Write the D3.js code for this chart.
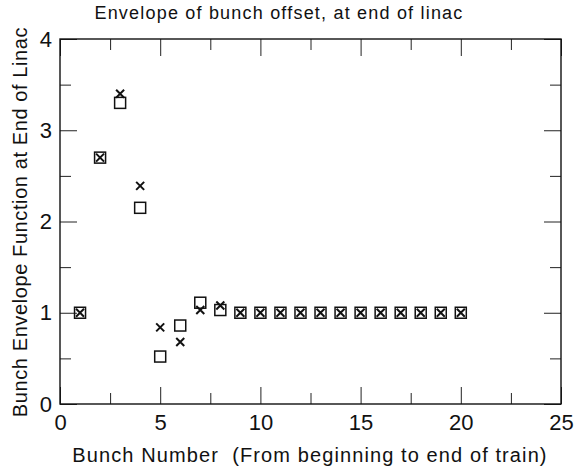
<!DOCTYPE html>
<html>
<head>
<meta charset="utf-8">
<script src="https://cdn.jsdelivr.net/npm/d3@7"></script>
<style>
  body { margin: 0; background: #fff; }
  text { font-family: "Liberation Sans", Arial, sans-serif; fill: #111; }
</style>
</head>
<body>
<div id="vis"></div>
<script>
// data
const bunches = d3.range(1, 21);
const envCross = [1.0, 2.7, 3.4, 2.39, 0.84, 0.68, 1.03, 1.08, 1.0, 1.0,
                  1.0, 1.0, 1.0, 1.0, 1.0, 1.0, 1.0, 1.0, 1.0, 1.0];
const envSquare = [1.0, 2.7, 3.3, 2.15, 0.52, 0.86, 1.11, 1.03, 1.0, 1.0,
                   1.0, 1.0, 1.0, 1.0, 1.0, 1.0, 1.0, 1.0, 1.0, 1.0];
const xTicks = [0, 5, 10, 15, 20, 25];
const xMinor = [2.5, 7.5, 12.5, 17.5, 22.5];
const yTicks = [0, 1, 2, 3, 4];
const yMinor = [0.5, 1.5, 2.5, 3.5];

const FRAME_WIDTH = 576;
const FRAME_HEIGHT = 468;
const MARGINS = {left: 60, right: 15, top: 39, bottom: 64};
const VIS_WIDTH = FRAME_WIDTH - MARGINS.left - MARGINS.right;
const VIS_HEIGHT = FRAME_HEIGHT - MARGINS.top - MARGINS.bottom;

const FRAME = d3.select("#vis")
        .append("svg")
          .attr("width", FRAME_WIDTH)
          .attr("height", FRAME_HEIGHT);

const X = d3.scaleLinear().domain([0, 25]).range([0, VIS_WIDTH]);
const Y = d3.scaleLinear().domain([0, 4]).range([VIS_HEIGHT, 0]);

const G = FRAME.append("g")
        .attr("transform", "translate(" + MARGINS.left + "," + MARGINS.top + ")");

const MAJOR = 17, MINOR = 11;

function styleAxis(sel) {
  sel.select(".domain").remove();
  sel.selectAll(".tick line").attr("stroke", "#222").attr("stroke-width", 1);
  sel.selectAll("text").attr("font-size", "22px").attr("fill", "#111");
}

// bottom
G.append("g").attr("transform", "translate(0," + VIS_HEIGHT + ")")
  .call(d3.axisBottom(X).tickValues(xTicks).tickSize(-MAJOR).tickPadding(10).tickFormat(d3.format("d")))
  .call(styleAxis);
G.append("g").attr("transform", "translate(0," + VIS_HEIGHT + ")")
  .call(d3.axisBottom(X).tickValues(xMinor).tickSize(-MINOR).tickFormat(""))
  .call(styleAxis);
// top
G.append("g")
  .call(d3.axisTop(X).tickValues(xTicks).tickSize(-MAJOR).tickFormat(""))
  .call(styleAxis);
G.append("g")
  .call(d3.axisTop(X).tickValues(xMinor).tickSize(-MINOR).tickFormat(""))
  .call(styleAxis);
// left
G.append("g")
  .call(d3.axisLeft(Y).tickValues(yTicks).tickSize(-MAJOR).tickPadding(8).tickFormat(d3.format("d")))
  .call(styleAxis);
G.append("g")
  .call(d3.axisLeft(Y).tickValues(yMinor).tickSize(-MINOR).tickFormat(""))
  .call(styleAxis);
// right
G.append("g").attr("transform", "translate(" + VIS_WIDTH + ",0)")
  .call(d3.axisRight(Y).tickValues(yTicks).tickSize(-MAJOR).tickFormat(""))
  .call(styleAxis);
G.append("g").attr("transform", "translate(" + VIS_WIDTH + ",0)")
  .call(d3.axisRight(Y).tickValues(yMinor).tickSize(-MINOR).tickFormat(""))
  .call(styleAxis);

// frame
G.append("rect")
  .attr("x", 0).attr("y", 0)
  .attr("width", VIS_WIDTH).attr("height", VIS_HEIGHT)
  .attr("fill", "none").attr("stroke", "#111").attr("stroke-width", 1.4);

// squares
const SQ = 11;
G.selectAll(".sq")
  .data(bunches)
  .enter()
  .append("rect")
    .attr("class", "sq")
    .attr("x", (d, i) => X(d) - SQ / 2)
    .attr("y", (d, i) => Y(envSquare[i]) - SQ / 2)
    .attr("width", SQ)
    .attr("height", SQ)
    .attr("fill", "none")
    .attr("stroke", "#111")
    .attr("stroke-width", 1.5);

// crosses
const CR = 4;
G.selectAll(".cr")
  .data(bunches)
  .enter()
  .append("path")
    .attr("class", "cr")
    .attr("d", (d, i) => {
      const cx = X(d), cy = Y(envCross[i]);
      return "M" + (cx - CR) + "," + (cy - CR) + "L" + (cx + CR) + "," + (cy + CR) +
             "M" + (cx - CR) + "," + (cy + CR) + "L" + (cx + CR) + "," + (cy - CR);
    })
    .attr("stroke", "#111")
    .attr("stroke-width", 2);

// titles
FRAME.append("text")
  .attr("x", 279).attr("y", 19)
  .attr("text-anchor", "middle")
  .attr("font-size", "18px")
  .attr("letter-spacing", "1.2px")
  .text("Envelope of bunch offset, at end of linac");

FRAME.append("text")
  .attr("x", 310).attr("y", 462)
  .attr("text-anchor", "middle")
  .attr("font-size", "20px")
  .attr("letter-spacing", "1.1px")
  .attr("xml:space", "preserve")
  .text("Bunch Number  (From beginning to end of train)");

FRAME.append("text")
  .attr("transform", "translate(27,222) rotate(-90)")
  .attr("text-anchor", "middle")
  .attr("font-size", "20px")
  .attr("letter-spacing", "0.6px")
  .text("Bunch Envelope Function at End of Linac");
</script>
</body>
</html>
